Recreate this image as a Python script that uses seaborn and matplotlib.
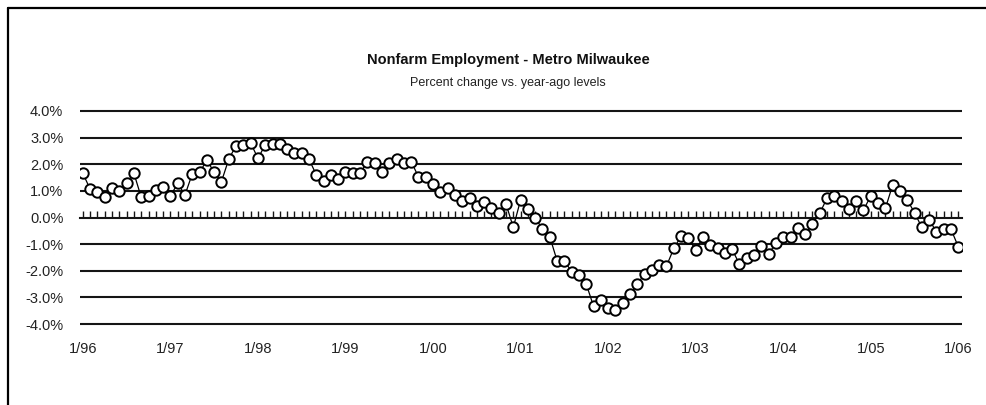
import numpy as np
import pandas as pd
import matplotlib
matplotlib.use('Agg')
import matplotlib.pyplot as plt
from matplotlib import font_manager
import seaborn as sns

# monthly % change vs. year-ago, 1/96 .. 1/06
pct_change = [
    1.66, 1.06, 0.95, 0.78, 1.10, 1.00, 1.31, 1.66, 0.76, 0.81, 1.03, 1.16,
    0.81, 1.28, 0.85, 1.64, 1.69, 2.16, 1.69, 1.35, 2.19, 2.70, 2.71, 2.80,
    2.22, 2.73, 2.75, 2.76, 2.56, 2.41, 2.41, 2.19, 1.60, 1.38, 1.60, 1.44,
    1.69, 1.66, 1.66, 2.10, 2.04, 1.69, 2.06, 2.19, 2.06, 2.10, 1.53, 1.53,
    1.25, 0.97, 1.10, 0.83, 0.63, 0.74, 0.44, 0.59, 0.34, 0.18, 0.51, -0.37,
    0.66, 0.31, 0.00, -0.44, -0.72, -1.62, -1.62, -2.04, -2.16, -2.50, -3.33, -3.10,
    -3.38, -3.46, -3.20, -2.88, -2.50, -2.12, -1.97, -1.80, -1.82, -1.16, -0.70, -0.78,
    -1.22, -0.74, -1.03, -1.16, -1.32, -1.20, -1.75, -1.53, -1.41, -1.07, -1.37, -0.95,
    -0.74, -0.73, -0.41, -0.62, -0.24, 0.16, 0.72, 0.81, 0.63, 0.31, 0.63, 0.28,
    0.81, 0.53, 0.34, 1.22, 1.01, 0.66, 0.18, -0.37, -0.09, -0.53, -0.44, -0.44,
    -1.10,
]
year_labels = ['1/96', '1/97', '1/98', '1/99', '1/00', '1/01',
               '1/02', '1/03', '1/04', '1/05', '1/06']
y_ticks = [4, 3, 2, 1, 0, -1, -2, -3, -4]

df = pd.DataFrame({'month': np.arange(len(pct_change)), 'pct': pct_change})

sns.set_style('white')
installed = {f.name for f in font_manager.fontManager.ttflist}
fam = 'Liberation Sans Narrow' if 'Liberation Sans Narrow' in installed else 'Liberation Sans'
plt.rcParams['font.family'] = [fam, 'DejaVu Sans']

fig = plt.figure(figsize=(9.87, 4.05), dpi=100)
ax = fig.add_axes([0.081, 0.1933, 0.894, 0.5393])

for v in y_ticks:
    if v != 0:
        ax.axhline(v, color='#151515', lw=1.5, zorder=1)

sns.lineplot(data=df, x='month', y='pct', ax=ax, color='black', lw=0.9,
             marker='o', markersize=7.5, markerfacecolor='white',
             markeredgecolor='black', markeredgewidth=1.4, zorder=3)

ax.set_xlim(-0.4, len(pct_change) - 0.45)
ax.set_ylim(-4.1, 4.1)

# zero line carries the monthly tick marks
for s in ['top', 'right', 'left']:
    ax.spines[s].set_visible(False)
ax.spines['bottom'].set_position(('data', 0))
ax.spines['bottom'].set_color('#151515')
ax.spines['bottom'].set_linewidth(1.5)
ax.set_xticks(df['month'])
ax.tick_params(axis='x', bottom=True, direction='in', length=5, width=1.0,
               color='#151515', labelbottom=False)

ax.set_yticks(y_ticks)
ax.set_yticklabels([f'{v:.1f}%' for v in y_ticks])
ax.tick_params(axis='y', left=False, length=0, pad=12, labelsize=10.5, colors='#222222')
ax.set_xlabel('')
ax.set_ylabel('')

sec = ax.secondary_xaxis(0.0)
sec.set_xticks(np.arange(len(year_labels)) * 12)
sec.set_xticklabels(year_labels)
sec.tick_params(length=0, pad=11, labelsize=10.5, colors='#222222')
sec.spines['bottom'].set_visible(False)

fig.text(0.515, 0.852, 'Nonfarm Employment - Metro Milwaukee',
         ha='center', va='center', fontsize=10.5, fontweight='bold', color='#111111')
fig.text(0.515, 0.795, 'Percent change vs. year-ago levels',
         ha='center', va='center', fontsize=9, color='#222222')

# outer frame (top and left edges)
fig.add_artist(plt.Line2D([8 / 987, 1], [1 - 8 / 405, 1 - 8 / 405],
                          transform=fig.transFigure, color='black', lw=1.6))
fig.add_artist(plt.Line2D([8 / 987, 8 / 987], [0, 1 - 8 / 405],
                          transform=fig.transFigure, color='black', lw=1.6))

fig.savefig('out.png', dpi=100)
